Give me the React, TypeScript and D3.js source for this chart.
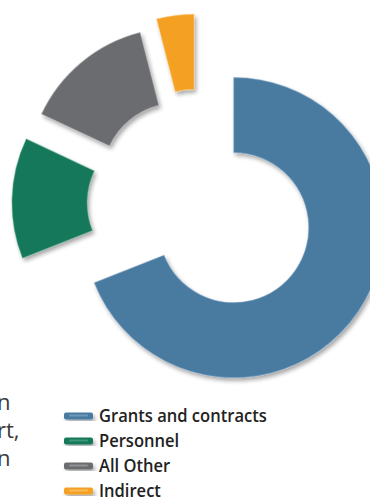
import React from "react";
import * as d3 from "d3";

const categories = ["Grants and contracts", "Personnel", "All Other", "Indirect"];
const values = [69, 13, 14, 4];
const colors = ["#4a7aa0", "#17785a", "#6b6c6f", "#f4a023"];
const lightColors = ["#7ea7c8", "#4fa584", "#a0a1a3", "#fcc872"];
const sideText = ["n", "rt,", "n"];

const W = 370;
const H = 502;
const cx = 199;
const cy = 204;
const innerR = 75;
const outerR = 150;
const explode = [42, 37, 34, 40];

export default function App() {
  const pie = d3
    .pie<number>()
    .sort(null)
    .startAngle(0)
    .endAngle(2 * Math.PI)
    .value((d) => d);
  const arcs = pie(values);
  const arc = d3.arc<d3.PieArcDatum<number>>().innerRadius(innerR).outerRadius(outerR);

  const legendY = d3.scalePoint<string>().domain(categories).range([416, 491]);

  return (
    <svg
      width={W}
      height={H}
      style={{ position: "absolute", left: 0, top: 0, background: "#fff" }}
    >
      <defs>
        <filter id="shadow" x="-20%" y="-20%" width="140%" height="140%">
          <feGaussianBlur in="SourceAlpha" stdDeviation="2" result="blur" />
          <feOffset in="blur" dx="1.5" dy="2.5" result="off" />
          <feComponentTransfer in="off" result="sh">
            <feFuncA type="linear" slope="0.35" />
          </feComponentTransfer>
          <feMerge>
            <feMergeNode in="sh" />
            <feMergeNode in="SourceGraphic" />
          </feMerge>
        </filter>
      </defs>
      {arcs.map((a, i) => {
        const mid = (a.startAngle + a.endAngle) / 2;
        const dx = explode[i] * Math.sin(mid);
        const dy = -explode[i] * Math.cos(mid);
        return (
          <g key={i} transform={`translate(${cx + dx},${cy + dy})`} filter="url(#shadow)">
            <path d={arc(a) || ""} fill={colors[i]} />
            <path
              d={arc(a) || ""}
              fill="none"
              stroke={lightColors[i]}
              strokeOpacity={0.45}
              strokeWidth={1.2}
            />
          </g>
        );
      })}
      {sideText.map((t, i) => (
        <text
          key={i}
          x={-3}
          y={410 + i * 28}
          fontFamily="'Open Sans', sans-serif"
          fontSize={22}
          fill="#3a3a3a"
        >
          {t}
        </text>
      ))}
      {categories.map((c, i) => {
        const y = legendY(c) as number;
        return (
          <g key={c}>
            <rect x={64} y={y - 3.5} width={29} height={7} rx={2} fill={colors[i]} filter="url(#shadow)" />
            <rect x={69} y={y - 1.5} width={19} height={2} rx={1} fill={lightColors[i]} opacity={0.7} />
            <text
              transform={`translate(99,${y + 6}) scale(0.92,1)`}
              fontFamily="'Open Sans', sans-serif"
              fontWeight={600}
              fontSize={18}
              fill="#222"
            >
              {c}
            </text>
          </g>
        );
      })}
    </svg>
  );
}
